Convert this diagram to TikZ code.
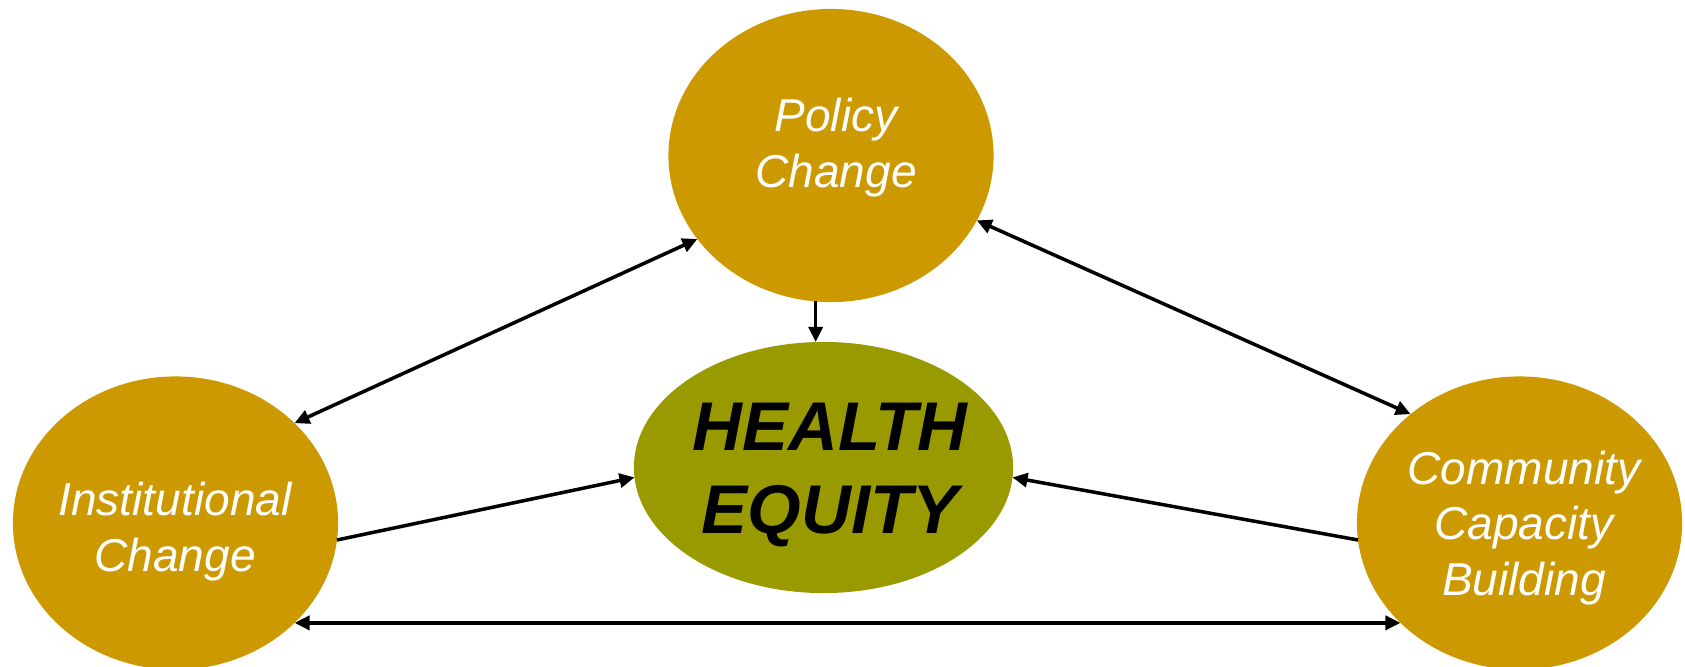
\documentclass[tikz,border=0pt]{standalone}
\usepackage{fontspec}
\setmainfont{Liberation Sans}
\usetikzlibrary{arrows.meta,shapes.geometric}
\definecolor{gold}{HTML}{CC9900}
\definecolor{healthgreen}{HTML}{999900}
\tikzset{
	blob/.style={ellipse, fill=#1, inner sep=0pt, outer sep=0pt, minimum width=3.25cm, minimum height=2.93cm},
	lbl/.style={text=white, align=center, font=\fontsize{13.1}{15.9}\selectfont\itshape},
	link/.style={line width=1pt}
}

\begin{document}
\begin{tikzpicture}[x=0.01cm, y=-0.01cm, >={Triangle[length=1.5mm,width=1.4mm]}]
			%%%%% START %%%%%
			\useasboundingbox (0,0) rectangle (1685,666);
			
			\node[blob=gold] (policy) at (831,155.5) {};
			\node[blob=gold] (inst) at (175.5,523) {};
			\node[blob=gold] (comm) at (1519.5,523) {};
			\node[blob=healthgreen, minimum width=3.79cm, minimum height=2.51cm] (health) at (823.5,467.5) {};
			
			\node[lbl] (policytxt) at (836,148) {Policy\\Change};
			\node[lbl] (insttxt) at (175,532) {Institutional\\Change};
			\node[lbl] (commtxt) at (1524,528) {Community\\Capacity\\Building};
			\node[align=center, font=\fontsize{19.6}{23.6}\selectfont\bfseries\itshape] (healthtxt) at (830,475) {HEALTH\\EQUITY};
			
			\draw[link,<->] (policy.212) -- (inst.40);
			\draw[link,<->] (policy.336) -- (comm.135);
			\draw[link,->] (policy.264) -- (policy.264 |- health.north);
			\draw[link,->] (inst.354) -- (health.183);
			\draw[link,->] (comm.186) -- (health.357);
			\draw[link,<->] (inst.320) -- (comm.220);
			%%%%% END %%%%%
\end{tikzpicture}
\end{document}
